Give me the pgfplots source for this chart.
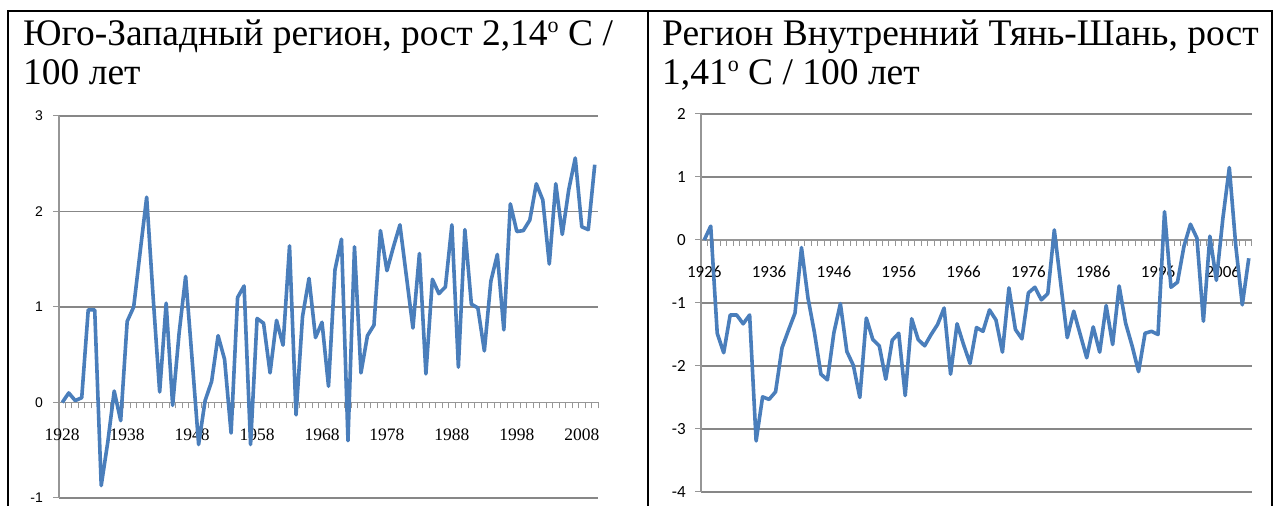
\documentclass[border=0pt]{standalone}
\usepackage{fontspec}
\setmainfont{Liberation Serif}
\newfontfamily\calibri{Carlito}
\newfontfamily\arial{Liberation Sans}
\usepackage{pgfplots}
\pgfplotsset{compat=1.18}
\usepackage{pgfplotstable}

\definecolor{series}{RGB}{74,126,187}
\definecolor{gridc}{RGB}{135,135,135}
\definecolor{axisc}{RGB}{150,150,150}

\newcommand{\supo}{\raisebox{13bp}{\fontsize{22bp}{22bp}\selectfont o}}

\pgfplotstableread{
year val
1928 0.00
1929 0.10
1930 0.02
1931 0.05
1932 0.97
1933 0.97
1934 -0.87
1935 -0.42
1936 0.12
1937 -0.19
1938 0.85
1939 1.00
1940 1.58
1941 2.15
1942 1.10
1943 0.11
1944 1.04
1945 -0.03
1946 0.73
1947 1.32
1948 0.45
1949 -0.44
1950 0.02
1951 0.22
1952 0.70
1953 0.45
1954 -0.32
1955 1.10
1956 1.22
1957 -0.44
1958 0.88
1959 0.83
1960 0.31
1961 0.86
1962 0.60
1963 1.64
1964 -0.13
1965 0.90
1966 1.30
1967 0.68
1968 0.84
1969 0.17
1970 1.39
1971 1.71
1972 -0.40
1973 1.63
1974 0.31
1975 0.70
1976 0.81
1977 1.80
1978 1.38
1979 1.63
1980 1.86
1981 1.32
1982 0.78
1983 1.56
1984 0.30
1985 1.29
1986 1.14
1987 1.21
1988 1.86
1989 0.37
1990 1.81
1991 1.03
1992 0.99
1993 0.54
1994 1.27
1995 1.55
1996 0.76
1997 2.08
1998 1.79
1999 1.80
2000 1.91
2001 2.29
2002 2.12
2003 1.45
2004 2.29
2005 1.76
2006 2.23
2007 2.56
2008 1.84
2009 1.81
2010 2.49
}\sw

\pgfplotstableread{
year val
1926 0.00
1927 0.22
1928 -1.48
1929 -1.79
1930 -1.19
1931 -1.19
1932 -1.33
1933 -1.19
1934 -3.19
1935 -2.49
1936 -2.53
1937 -2.41
1938 -1.71
1939 -1.43
1940 -1.16
1941 -0.12
1942 -0.92
1943 -1.47
1944 -2.13
1945 -2.22
1946 -1.47
1947 -1.01
1948 -1.77
1949 -1.99
1950 -2.50
1951 -1.24
1952 -1.58
1953 -1.68
1954 -2.21
1955 -1.59
1956 -1.48
1957 -2.47
1958 -1.25
1959 -1.58
1960 -1.68
1961 -1.50
1962 -1.34
1963 -1.08
1964 -2.13
1965 -1.33
1966 -1.66
1967 -1.96
1968 -1.39
1969 -1.45
1970 -1.11
1971 -1.27
1972 -1.78
1973 -0.76
1974 -1.42
1975 -1.57
1976 -0.84
1977 -0.75
1978 -0.95
1979 -0.85
1980 0.16
1981 -0.70
1982 -1.55
1983 -1.13
1984 -1.50
1985 -1.87
1986 -1.38
1987 -1.78
1988 -1.04
1989 -1.66
1990 -0.73
1991 -1.32
1992 -1.68
1993 -2.09
1994 -1.48
1995 -1.45
1996 -1.50
1997 0.45
1998 -0.75
1999 -0.67
2000 -0.10
2001 0.25
2002 0.03
2003 -1.29
2004 0.06
2005 -0.64
2006 0.34
2007 1.15
2008 -0.10
2009 -1.03
2010 -0.29
}\its

\pgfplotsset{
  excelstyle/.style={
    scale only axis,
    axis x line*=middle,
    axis y line*=left,
    axis line style={draw=axisc, line width=1.2bp},
    tick align=outside,
    ymajorgrids,
    major grid style={draw=gridc, line width=1.1bp},
    major tick length=6bp,
    minor tick length=6bp,
    major x tick style={draw=none},
    minor x tick style={draw=axisc, line width=1bp},
    y tick style={draw=axisc, line width=1bp},
    clip=false,
  }
}

\begin{document}
\begin{tikzpicture}[x=1bp,y=1bp]
\useasboundingbox (0,0) rectangle (1275,506);
\draw[line width=2bp] (8,-2) -- (8,495) -- (1272,495) -- (1272,-2);
\draw[line width=1.5bp] (648,-2) -- (648,495);

\node[anchor=base west, inner sep=0pt, font=\fontsize{37.5bp}{40bp}\selectfont] at (23,460) {Юго-Западный регион, рост 2,14\supo{} С /};
\node[anchor=base west, inner sep=0pt, font=\fontsize{37.5bp}{40bp}\selectfont] at (23,421) {100 лет};
\node[anchor=base west, inner sep=0pt, font=\fontsize{37.5bp}{40bp}\selectfont] at (662,460) {Регион Внутренний Тянь-Шань, рост};
\node[anchor=base west, inner sep=0pt, font=\fontsize{37.5bp}{40bp}\selectfont] at (662,421) {1,41\supo{} С / 100 лет};

\begin{axis}[excelstyle,
  at={(59bp,8bp)}, anchor=south west,
  width=539bp, height=382bp,
  xmin=1927.5, xmax=2010.5, ymin=-1, ymax=3,
  xtick={1928,1938,1948,1958,1968,1978,1988,1998,2008},
  xticklabels={1928,1938,1948,1958,1968,1978,1988,1998,2008},
  minor xtick={1927.5,1928.5,...,2010.5},
  ytick={-1,0,1,2,3},
  yticklabels={-1,0,1,2,3},
  xticklabel style={font=\fontsize{17.5bp}{17.5bp}\selectfont, anchor=north, inner sep=0pt, yshift=-20bp},
  yticklabel style={font=\arial\fontsize{14bp}{14bp}\selectfont, anchor=east, inner sep=0pt, xshift=-10bp},
]
\addplot[color=series, line width=3.6bp, line join=round, mark=none] table[x=year, y=val] {\sw};
\end{axis}

\begin{axis}[excelstyle,
  at={(701bp,14bp)}, anchor=south west,
  width=551bp, height=378bp,
  xmin=1925.5, xmax=2010.5, ymin=-4, ymax=2,
  xtick={1926,1936,1946,1956,1966,1976,1986,1996,2006},
  xticklabels={1926,1936,1946,1956,1966,1976,1986,1996,2006},
  minor xtick={1925.5,1926.5,...,2010.5},
  ytick={-4,-3,-2,-1,0,1,2},
  yticklabels={-4,-3,-2,-1,0,1,2},
  xticklabel style={font=\calibri\fontsize{17bp}{17bp}\selectfont, anchor=north, inner sep=0pt, yshift=-20bp},
  yticklabel style={font=\calibri\fontsize{17bp}{17bp}\selectfont, anchor=east, inner sep=0pt, xshift=-9bp},
]
\addplot[color=series, line width=3.6bp, line join=round, mark=none] table[x=year, y=val] {\its};
\end{axis}
\end{tikzpicture}
\end{document}
